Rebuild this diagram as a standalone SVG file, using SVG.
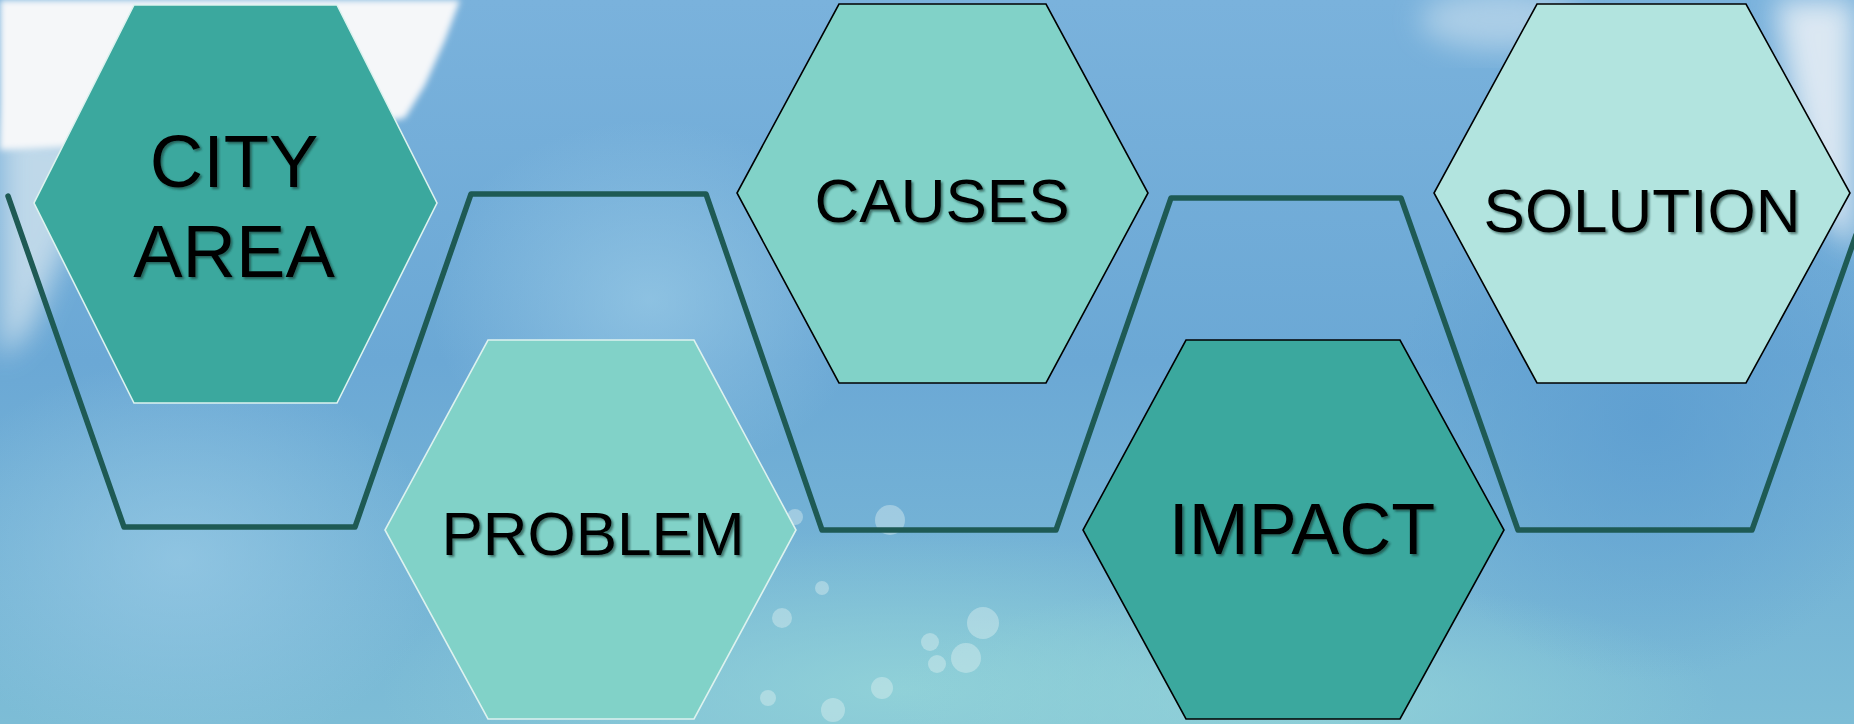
<svg xmlns="http://www.w3.org/2000/svg" width="1854" height="724" viewBox="0 0 1854 724">
  <defs>
    <linearGradient id="bgv" x1="0" y1="0" x2="0" y2="1">
      <stop offset="0" stop-color="#7AB2DC"/>
      <stop offset="0.5" stop-color="#6BA8D5"/>
      <stop offset="1" stop-color="#7DBDD6"/>
    </linearGradient>
    <radialGradient id="aqua" cx="0.5" cy="0.5" r="0.5">
      <stop offset="0" stop-color="#92D3D8" stop-opacity="0.9"/>
      <stop offset="1" stop-color="#92D3D8" stop-opacity="0"/>
    </radialGradient>
    <radialGradient id="lightblue" cx="0.5" cy="0.5" r="0.5">
      <stop offset="0" stop-color="#9ACBE6" stop-opacity="0.7"/>
      <stop offset="1" stop-color="#9ACBE6" stop-opacity="0"/>
    </radialGradient>
    <radialGradient id="deepblue" cx="0.5" cy="0.5" r="0.5">
      <stop offset="0" stop-color="#5C9DD0" stop-opacity="0.8"/>
      <stop offset="1" stop-color="#5C9DD0" stop-opacity="0"/>
    </radialGradient>
    <filter id="blur20" x="-30%" y="-30%" width="160%" height="160%">
      <feGaussianBlur stdDeviation="14"/>
    </filter>
    <filter id="blur4" x="-30%" y="-30%" width="160%" height="160%">
      <feGaussianBlur stdDeviation="3"/>
    </filter>
    <filter id="tshadow" x="-10%" y="-20%" width="130%" height="150%">
      <feDropShadow dx="2" dy="2" stdDeviation="1" flood-color="#10302c" flood-opacity="0.6"/>
    </filter>
  </defs>
  <style>
    .hex-dark { fill: #3BA89E; }
    .hex-mid { fill: #81D2C8; }
    .hex-light { fill: #B2E4DF; }
    .edge-light { stroke: #DDF2EF; stroke-width: 1.6; }
    .edge-black { stroke: #000000; stroke-width: 1.6; }
    .label { font-family: "Liberation Sans", Arial, sans-serif; fill: #000000; text-anchor: middle; filter: url(#tshadow); }
    .zig { fill: none; stroke: #1E5A54; stroke-width: 5.5; stroke-linejoin: round; stroke-linecap: round; }
    .spot { fill: #E4F2F3; opacity: 0.4; }
  </style>

  <g id="background">
    <rect x="0" y="0" width="1854" height="724" fill="url(#bgv)"/>
    <ellipse cx="180" cy="560" rx="260" ry="200" fill="url(#lightblue)"/>
    <ellipse cx="900" cy="690" rx="520" ry="160" fill="url(#aqua)"/>
    <ellipse cx="1300" cy="700" rx="420" ry="120" fill="url(#aqua)"/>
    <ellipse cx="1650" cy="420" rx="260" ry="260" fill="url(#deepblue)"/>
    <ellipse cx="650" cy="300" rx="220" ry="180" fill="url(#lightblue)"/>
    <path d="M0,120 L120,140 L60,260 L30,330 L0,360 Z" fill="#D2E3EE" opacity="0.8" filter="url(#blur20)"/>
    <path d="M0,0 L460,0 L445,40 L425,85 L405,118 L340,130 L200,140 L0,150 Z" fill="#F5F7F9" filter="url(#blur4)"/>
    <path d="M1775,0 L1854,0 L1854,250 L1825,220 L1800,140 L1785,60 Z" fill="#E6EEF5" opacity="0.9" filter="url(#blur20)"/>
    <ellipse cx="1500" cy="20" rx="80" ry="30" fill="#DCE9F2" opacity="0.5" filter="url(#blur20)"/>
    <circle class="spot" cx="890" cy="520" r="15"/>
    <circle class="spot" cx="822" cy="588" r="7"/>
    <circle class="spot" cx="782" cy="618" r="10"/>
    <circle class="spot" cx="983" cy="623" r="16"/>
    <circle class="spot" cx="930" cy="642" r="9"/>
    <circle class="spot" cx="966" cy="658" r="15"/>
    <circle class="spot" cx="937" cy="664" r="9"/>
    <circle class="spot" cx="882" cy="688" r="11"/>
    <circle class="spot" cx="833" cy="710" r="12"/>
    <circle class="spot" cx="768" cy="698" r="8"/>
    <circle class="spot" cx="795" cy="517" r="8"/>
  </g>

  <g id="connectors">
    <polyline class="zig" points="8,196 124,527 355,527 471,194 706,194 822,530 1056,530 1171,198 1401,198 1518,530 1752,530 1856,235"/>
  </g>

  <g id="node-city-area">
    <polygon class="hex-dark edge-light" points="134,5 337,5 437,203 337,403 134,403 34,203"/>
    <text class="label" x="234" y="187" font-size="74">CITY</text>
    <text class="label" x="234" y="277" font-size="74">AREA</text>
  </g>

  <g id="node-problem">
    <polygon class="hex-mid edge-light" points="488,340 694,340 796,530 694,719 488,719 385,530"/>
    <text class="label" x="593" y="555" font-size="62">PROBLEM</text>
  </g>

  <g id="node-causes">
    <polygon class="hex-mid edge-black" points="839,4 1046,4 1148,193 1046,383 839,383 737,193"/>
    <text class="label" x="942" y="222" font-size="62">CAUSES</text>
  </g>

  <g id="node-impact">
    <polygon class="hex-dark edge-black" points="1186,340 1400,340 1504,530 1400,719 1186,719 1083,530"/>
    <text class="label" x="1302" y="554" font-size="72">IMPACT</text>
  </g>

  <g id="node-solution">
    <polygon class="hex-light edge-black" points="1537,4 1746,4 1850,193 1746,383 1537,383 1434,193"/>
    <text class="label" x="1642" y="232" font-size="62">SOLUTION</text>
  </g>
</svg>
